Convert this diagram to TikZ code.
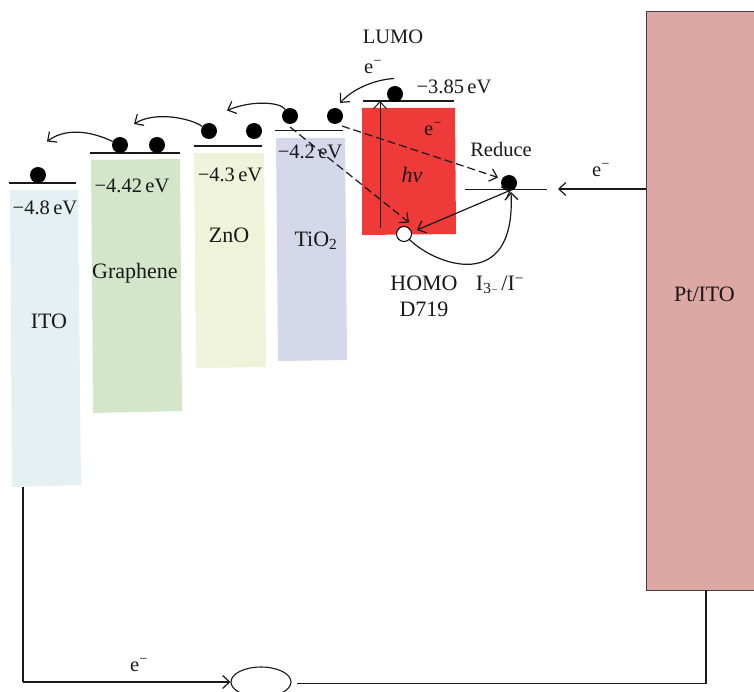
\documentclass[tikz,border=0pt]{standalone}
\usepackage{fontspec}
\setmainfont{Liberation Serif}
\usetikzlibrary{arrows.meta,shapes.geometric}
\newcommand{\elec}{e\textsuperscript{−}}
\tikzset{
 x=1pt,y=-1pt,
 txt/.style={inner sep=0pt,font=\fontsize{20.5}{24}\selectfont,text=black!90},
 txtb/.style={inner sep=0pt,font=\fontsize{22}{24}\selectfont,text=black!90},
 lvl/.style={line width=1.3pt,draw=black!90},
 dot/.style={circle,fill=black,inner sep=0pt,minimum size=16pt},
 hdot/.style={circle,draw=black,line width=1pt,fill=white,inner sep=0pt,minimum size=15pt},
 wire/.style={line width=1.2pt,draw=black!90},
 arr/.style={wire,-{Straight Barb[length=7pt,width=13pt,line width=1.2pt]}},
 darr/.style={arr,dashed,dash pattern=on 8pt off 4pt},
}
\begin{document}
\begin{tikzpicture}
\useasboundingbox (0,0) rectangle (754,692);
\clip (0,0) rectangle (754,692);
% bands
\fill[fill={rgb,255:red,229;green,240;blue,243}] (10,190)--(78,190)--(81,485)--(12,487)--cycle;
\fill[fill={rgb,255:red,211;green,230;blue,202}] (91,160)--(180,159)--(182,411)--(93,413)--cycle;
\fill[fill={rgb,255:red,239;green,243;blue,217}] (194,153)--(264,153)--(266,367)--(196,368)--cycle;
\fill[fill={rgb,255:red,213;green,215;blue,235}] (276,138)--(345,138)--(347,360)--(278,361)--cycle;
\fill[fill={rgb,255:red,239;green,58;blue,58}] (362,108)--(455,108)--(456,234)--(362,235)--cycle;
\draw[fill={rgb,255:red,221;green,168;blue,163},draw=black!75,line width=1pt] (646,12) rectangle (760,590);
% levels
\draw[lvl] (9,183)--(76,183);
\draw[lvl] (90,153)--(180,153);
\draw[lvl] (194,146)--(262,146);
\draw[lvl] (275,130.5)--(343,130.5);
\draw[lvl] (363,101)--(454,101);
\draw[lvl] (465,189.5)--(547,189.5);
% electrons
\node[dot] (d1) at (38,175) {};
\node[dot] (d2) at (120,145) {};
\node[dot] (d3) at (157,145) {};
\node[dot] (d4) at (209,131) {};
\node[dot] (d5) at (254,131) {};
\node[dot] (d6) at (290,116) {};
\node[dot] (d7) at (335,116) {};
\node[dot] (d8) at (395,94) {};
\node[dot] (d9) at (509,183) {};
\node[hdot] (h) at (404,234) {};
% hopping arrows
\coordinate (t1) at (47,141.5);
\coordinate (t2) at (134,124);
\coordinate (t3) at (227,110.5);
\coordinate (t4) at (340,103);
\draw[arr] (d2) .. controls (95,133) and (68,126) .. (t1);
\draw[arr] (d4) .. controls (190,118) and (155,111) .. (t2);
\draw[arr] (d6) .. controls (280,102) and (252,100) .. (t3);
\coordinate (s4) at (394,78.5);
\draw[arr] (s4) .. controls (372,80) and (352,90) .. (t4);
% excitation
\coordinate (hvb) at (380,228);
\coordinate (hvt) at (380,101);
\draw[wire,line width=1pt,-{Straight Barb[length=7pt,width=13pt,line width=1pt]}] (hvb)--(hvt);
% dashed recombination
\coordinate (ds1) at (342,126);
\coordinate (de1) at (498,177.5);
\coordinate (ds2) at (290,127);
\coordinate (de2) at (409,222.5);
\draw[darr] (ds1)--(de1);
\draw[darr] (ds2)--(de2);
% redox
\draw[wire,{Straight Barb[length=7pt,width=13pt,line width=1.2pt]}-{Straight Barb[length=7pt,width=13pt,line width=1.2pt]}] (417,230)--(511,190);
\coordinate (rt) at (511,192);
\draw[arr] (h) .. controls (435,265) and (516,295) .. (rt);
% external
\coordinate (pt) at (646,189);
\coordinate (pb) at (706,590);
\coordinate (ib) at (23,487);
\coordinate (ic) at (23,682);
\coordinate (lc) at (706,683.5);
\draw[arr] (pt)--(558,189);
\node[draw=black!90,line width=1.1pt,ellipse,minimum width=60pt,minimum height=30pt,inner sep=0pt] (load) at (261,682) {};
\draw[wire] (ib)--(ic);
\draw[arr] (ic)--(load.west);
\draw[wire] (297,683.5)--(lc)--(pb);
% labels
\node[txt] (a1) at (393,37) {LUMO};
\node[txt] (a2) at (373,67) {\elec};
\node[txt] (a3) at (454,87) {−3.85\,eV};
\node[txt] (a4) at (433,129) {\elec};
\node[txt] (a5) at (501,149) {Reduce};
\node[txtb] (a6) at (412,175) {\textit{hν}};
\node[txtb] (a7) at (424,283) {HOMO};
\node[txtb] (a8) at (424,309) {D719};
\node[txtb] (a9) at (500,285) {I\textsubscript{3}\raisebox{-0.3ex}{\fontsize{11}{12}\selectfont−}\,/I\textsuperscript{−}};
\node[txt] (a10) at (601,170) {\elec};
\node[txtb] (a11) at (704.5,294) {Pt/ITO};
\node[txtb] (a12) at (49,321) {ITO};
\node[txtb] (a13) at (135,273) {Graphene};
\node[txtb] (a14) at (229,235) {ZnO};
\node[txtb] (a15) at (316,241) {TiO\textsubscript{2}};
\node[txt] (a16) at (310,152) {−4.2\,eV};
\node[txt] (a17) at (230,175) {−4.3\,eV};
\node[txt] (a18) at (132,186) {−4.42\,eV};
\node[txt] (a19) at (45,208) {−4.8\,eV};
\node[txt] (a20) at (139,665) {\elec};
\end{tikzpicture}
\end{document}
